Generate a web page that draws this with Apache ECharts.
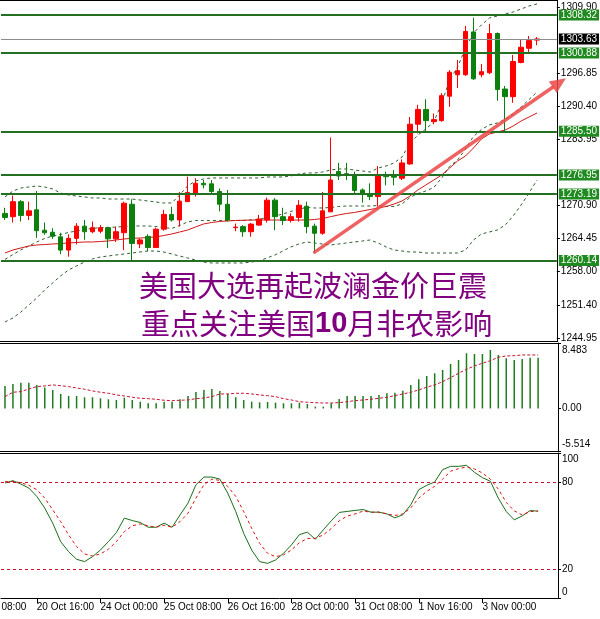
<!DOCTYPE html>
<html><head><meta charset="utf-8">
<script src="https://cdn.jsdelivr.net/npm/echarts@6/dist/echarts.min.js"></script>
<style>html,body{margin:0;padding:0;background:#fff}#c{width:600px;height:619px}</style>
</head><body><div id="c"></div>
<script>
const categories = ['20 Oct 00:00','20 Oct 04:00','20 Oct 08:00','20 Oct 12:00','20 Oct 16:00','20 Oct 20:00',
'21 Oct 00:00','21 Oct 04:00','21 Oct 08:00','21 Oct 12:00','21 Oct 16:00','21 Oct 20:00',
'24 Oct 00:00','24 Oct 04:00','24 Oct 08:00','24 Oct 12:00','24 Oct 16:00','24 Oct 20:00',
'25 Oct 00:00','25 Oct 04:00','25 Oct 08:00','25 Oct 12:00','25 Oct 16:00','25 Oct 20:00',
'26 Oct 00:00','26 Oct 04:00','26 Oct 08:00','26 Oct 12:00','26 Oct 16:00','26 Oct 20:00',
'27 Oct 00:00','27 Oct 04:00','27 Oct 08:00','27 Oct 12:00','27 Oct 16:00','27 Oct 20:00',
'28 Oct 00:00','28 Oct 04:00','28 Oct 08:00','28 Oct 12:00','28 Oct 16:00','28 Oct 20:00',
'31 Oct 00:00','31 Oct 04:00','31 Oct 08:00','31 Oct 12:00','31 Oct 16:00','31 Oct 20:00',
'1 Nov 00:00','1 Nov 04:00','1 Nov 08:00','1 Nov 12:00','1 Nov 16:00','1 Nov 20:00',
'2 Nov 00:00','2 Nov 04:00','2 Nov 08:00','2 Nov 12:00','2 Nov 16:00','2 Nov 20:00',
'3 Nov 00:00','3 Nov 04:00','3 Nov 08:00','3 Nov 12:00','3 Nov 16:00','3 Nov 20:00',
'4 Nov 00:00','4 Nov 04:00'];
const tickLabels = ['20 Oct 16:00','24 Oct 00:00','25 Oct 08:00','26 Oct 16:00','28 Oct 00:00','31 Oct 08:00','1 Nov 16:00','3 Nov 00:00'];
const leadingLabel = '19 Oct 08:00';

const openP = [1269.4,1268.75,1271.7,1269.0,1270.1,1266.1,1265.7,1264.8,1262.2,1264.5,1266.9,1265.8,1265.9,1266.6,1264.4,1265.6,1271.2,1263.4,1264.9,1262.7,1266.3,1269.2,1268.1,1271.7,1273.2,1275.3,1275.2,1273.7,1271.2,1266.6,1266.8,1265.8,1267.1,1268.1,1272.0,1268.75,1268.0,1268.6,1270.8,1266.9,1265.5,1269.7,1277.6,1277.2,1276.75,1274.0,1273.2,1272.7,1276.9,1276.9,1276.3,1279.1,1286.9,1289.8,1287.4,1287.6,1292.4,1296.6,1296.6,1305.0,1296.6,1297.0,1304.7,1293.8,1292.3,1299.0,1301.8,1303.4];
const closeP = [1268.6,1271.7,1269.0,1269.9,1266.0,1265.6,1264.9,1262.2,1264.5,1266.9,1265.8,1266.6,1266.6,1264.4,1265.8,1271.4,1263.5,1264.2,1262.7,1266.3,1269.2,1268.1,1271.8,1273.5,1275.3,1275.0,1273.7,1271.2,1268.1,1266.7,1265.8,1267.3,1268.3,1272.0,1268.75,1268.0,1268.75,1271.0,1266.8,1265.5,1269.9,1275.95,1276.75,1276.9,1273.9,1273.2,1272.7,1276.75,1276.6,1276.5,1279.3,1286.9,1289.8,1287.6,1287.8,1292.5,1297.1,1297.4,1305.1,1295.8,1297.2,1304.7,1293.7,1292.3,1299.2,1302.0,1303.3,1303.63];
const lowP = [1268.1,1267.6,1267.8,1268.1,1264.6,1265.2,1264.4,1261.4,1260.9,1263.3,1264.2,1265.5,1265.5,1262.6,1263.8,1262.2,1260.2,1262.6,1262.0,1262.6,1266.0,1267.8,1266.8,1271.7,1272.7,1274.3,1273.4,1269.8,1267.8,1265.9,1264.8,1264.8,1267.0,1267.6,1266.1,1267.1,1267.6,1267.8,1265.5,1261.7,1265.2,1269.7,1275.95,1275.95,1273.4,1271.5,1272.0,1270.7,1274.9,1274.9,1275.95,1278.9,1285.1,1285.4,1286.9,1287.4,1290.3,1294.0,1296.4,1295.6,1296.1,1296.7,1291.5,1285.4,1291.1,1298.85,1300.8,1302.4];
const highP = [1270.5,1272.9,1272.0,1271.7,1273.8,1267.6,1266.5,1265.6,1265.3,1267.5,1268.1,1267.8,1267.1,1266.8,1266.8,1271.7,1272.2,1264.5,1265.3,1266.6,1270.1,1270.7,1273.6,1276.6,1276.3,1275.95,1275.95,1274.3,1274.0,1267.4,1267.1,1267.5,1269.1,1272.5,1272.4,1270.5,1269.4,1272.0,1271.7,1267.4,1273.6,1284.3,1279.3,1279.3,1277.6,1274.3,1275.3,1278.7,1277.6,1277.9,1280.0,1288.3,1290.7,1291.8,1289.0,1293.0,1297.5,1299.5,1306.2,1307.8,1298.7,1306.6,1304.9,1294.4,1300.5,1303.4,1304.2,1304.0];

const bbUpper = [1272.62,1273.79,1274.38,1274.58,1274.78,1274.58,1274.19,1273.40,1273.01,1272.81,1272.62,1272.42,1272.42,1272.22,1272.22,1272.22,1272.22,1272.03,1271.83,1271.64,1271.44,1271.44,1273.01,1274.78,1275.76,1276.15,1276.35,1276.35,1276.35,1276.35,1276.35,1276.35,1276.35,1276.54,1276.54,1276.54,1276.74,1277.13,1277.33,1277.33,1277.52,1277.91,1278.11,1278.11,1277.91,1277.72,1277.52,1278.31,1278.70,1279.29,1280.47,1283.21,1284.78,1285.96,1287.33,1291.06,1295.58,1298.13,1301.85,1304.80,1306.37,1307.74,1308.13,1308.53,1308.92,1309.51,1310.10,1310.49];
const bbMiddle = [1260.36,1261.33,1262.22,1263.00,1263.79,1264.48,1264.97,1265.26,1265.65,1265.95,1266.24,1266.44,1266.63,1266.63,1266.73,1266.83,1266.93,1266.93,1266.93,1266.83,1266.63,1266.44,1267.03,1267.72,1268.01,1268.01,1268.01,1268.01,1268.01,1268.01,1268.01,1268.11,1268.21,1268.60,1268.89,1269.28,1269.78,1270.26,1270.56,1270.46,1270.46,1270.56,1270.75,1270.85,1270.85,1270.85,1270.85,1270.95,1270.76,1270.76,1271.25,1272.52,1273.30,1273.80,1274.48,1276.35,1278.61,1279.88,1282.04,1284.49,1285.87,1286.75,1287.14,1287.83,1288.91,1290.28,1291.75,1293.22];
const bbLower = [1248.09,1248.87,1250.05,1251.42,1252.80,1254.37,1255.74,1257.12,1258.29,1259.08,1259.86,1260.45,1260.84,1261.04,1261.24,1261.43,1261.63,1261.82,1262.02,1262.02,1261.82,1261.43,1261.04,1260.65,1260.25,1259.86,1259.67,1259.67,1259.67,1259.67,1259.67,1259.86,1260.06,1260.65,1261.24,1262.02,1262.81,1263.39,1263.79,1263.59,1263.39,1263.20,1263.39,1263.59,1263.79,1263.98,1264.18,1263.59,1262.81,1262.22,1262.02,1261.82,1261.82,1261.63,1261.63,1261.63,1261.63,1261.63,1262.22,1264.18,1265.36,1265.75,1266.14,1267.12,1268.89,1271.05,1273.40,1275.95];
const maRed = [1261.63,1262.22,1262.61,1263.00,1263.20,1263.29,1263.39,1263.49,1263.59,1263.69,1263.79,1263.79,1263.88,1263.98,1264.18,1264.38,1264.51,1264.57,1264.67,1264.77,1265.06,1265.36,1265.75,1266.14,1266.73,1267.32,1267.61,1267.81,1267.91,1268.01,1268.05,1268.10,1268.10,1268.10,1268.10,1268.10,1268.10,1268.10,1268.10,1268.20,1268.40,1268.75,1269.09,1269.38,1269.58,1269.87,1270.16,1270.46,1270.75,1271.24,1271.83,1272.81,1273.99,1274.97,1275.95,1276.93,1278.31,1279.68,1280.66,1282.23,1284.00,1284.98,1285.37,1285.76,1286.55,1287.53,1288.31,1289.10];

const macdHist = [2.92,3.18,3.34,3.34,3.05,2.70,2.40,1.88,1.62,1.62,1.45,1.45,1.32,1.19,1.10,1.40,1.10,0.88,0.67,0.67,0.88,0.88,1.19,1.62,2.14,2.40,2.53,2.27,1.88,1.45,1.10,0.88,0.80,0.84,0.75,0.67,0.67,0.75,0.58,0.23,0.23,0.67,1.23,1.62,1.62,1.62,1.62,1.75,1.97,2.05,2.31,3.05,3.78,4.21,4.56,4.99,5.77,6.29,7.15,7.06,7.06,7.58,6.93,6.51,6.29,6.42,6.58,6.58];
const macdSignal = [1.53,2.10,2.18,2.53,2.83,2.92,3.05,2.95,2.83,2.66,2.49,2.27,2.10,1.97,1.75,1.62,1.45,1.32,1.27,1.19,1.06,1.01,1.06,1.10,1.27,1.36,1.53,1.88,1.88,1.97,1.97,1.88,1.75,1.66,1.53,1.27,1.10,0.88,0.80,0.75,0.71,0.71,0.75,0.88,1.01,1.10,1.19,1.32,1.45,1.66,1.88,2.10,2.40,2.75,3.05,3.47,3.99,4.56,5.08,5.51,5.86,6.19,6.64,6.80,6.84,6.93,6.93,6.93];

const stochK = [79.3,80.9,78.6,75.8,70.1,62,51.6,38.9,31.9,26.7,25.1,28.5,33.1,38.9,45.1,55.1,53.4,52.1,48.8,48.8,51.6,48.8,57.3,65.4,78.1,83.4,83.4,82,72.3,59.6,44.6,33.1,25.1,23.9,26.2,30.8,36.6,43.7,45.4,40.5,47,53.2,59,59.7,60.4,61,59.2,59.2,58,55.3,57.4,64.3,74.7,77.7,80,88.5,90.8,90.8,91.5,86.7,83,80.5,68.9,59.6,53.9,56.6,60.3,59.9];
const stochD = [80.2,80.4,79.5,77.7,74.7,68.9,60.8,52.7,43.5,35.5,30.4,29,30.4,33.6,38.9,45.8,49.8,51.1,49.8,48.8,50.2,48.8,52.7,58.5,68.9,78.1,82,81.1,76.9,70.1,59.6,48.1,37.7,30.8,28.5,29.7,33.1,38.2,41,41.2,43.5,47.9,53.2,56.5,58,59.9,59.2,59.2,58,56.9,58,62.2,68.9,73.5,77,82,87.4,89.2,90.4,89,86.2,82,75.1,65.9,60.1,57.3,59.6,59.9];

const levels = [1308.32, 1300.88, 1285.50, 1276.95, 1273.19, 1260.14];
const lastPrice = 1303.63;
const priceTicks = [1309.90, 1296.85, 1290.40, 1283.95, 1270.90, 1264.45, 1258.00, 1251.40, 1244.95];
const macdTicks = [-5.514, 0, 8.483];
const stochTicks = [0, 20, 80, 100];
const stochLevels = [20, 80];
const trendArrow = { from: [39, 1261.8], through: [67, 1292.0], extend: 1.13 };
const headline1 = '美国大选再起波澜金价巨震';
const headline2 = ['重点关注美国', '10', '月非农影响'];

const chart = echarts.init(document.getElementById('c'), null, {renderer: 'canvas', width: 600, height: 619});
const axisCats = categories.concat([' ', '  ']);
const candleData = openP.map((o, i) => [o, closeP[i], lowP[i], highP[i]]);
const FONT = 'Liberation Sans';
const lab = {fontFamily: FONT, fontSize: 10, color: '#000'};
const isTick = (idx, val) => tickLabels.indexOf(val) >= 0;
const GL = 1, GW = 557;
const LINE_GREEN = '#237023';
const BOX_GREEN = '#1f8a1f';
const DASH_GREEN = '#2f5f2f';

function xAx(g) {
  return {
    type: 'category', gridIndex: g, data: axisCats, boundaryGap: true,
    axisLine: {show: g === 2, lineStyle: {color: '#000', width: 1}},
    axisTick: {show: g === 2, alignWithLabel: true, interval: isTick, length: 5, lineStyle: {color: '#000'}},
    axisLabel: {show: g === 2, interval: isTick, align: 'left', margin: 4, ...lab},
    splitLine: {show: false}
  };
}

const levelLines = levels.map(v => ({
  yAxis: v,
  lineStyle: {color: LINE_GREEN, width: 2, type: 'solid'},
  label: {show: true, position: 'end', distance: 2, formatter: p => p.value.toFixed(2),
    backgroundColor: BOX_GREEN, color: '#fff', padding: [1, 2, 0, 2], fontFamily: FONT, fontSize: 10}
}));
levelLines.push({
  yAxis: lastPrice,
  lineStyle: {color: '#8c8c8c', width: 1, type: 'solid'},
  label: {show: true, position: 'end', distance: 2, formatter: p => p.value.toFixed(2),
    backgroundColor: '#000', color: '#fff', padding: [1, 2, 0, 2], fontFamily: FONT, fontSize: 10}
});

const option = {
  animation: false,
  backgroundColor: '#fff',
  grid: [
    {left: GL, width: GW, top: 0, height: 341},
    {left: GL, width: GW, top: 343, height: 108},
    {left: GL, width: GW, top: 453, height: 145}
  ],
  xAxis: [xAx(0), xAx(1), xAx(2)],
  yAxis: [
    {gridIndex: 0, type: 'value', position: 'right', min: 1244.36, max: 1311.27,
     axisLine: {show: true, lineStyle: {color: '#000'}},
     axisTick: {show: true, length: 3, customValues: priceTicks, lineStyle: {color: '#000'}},
     axisLabel: {customValues: priceTicks, formatter: v => v.toFixed(2), margin: 4, ...lab},
     splitLine: {show: false}},
    {gridIndex: 1, type: 'value', position: 'right', min: -5.514, max: 8.483,
     axisLine: {show: true, lineStyle: {color: '#000'}},
     axisTick: {show: true, length: 3, customValues: macdTicks, lineStyle: {color: '#000'}},
     axisLabel: {customValues: macdTicks, margin: 4, ...lab,
       formatter: v => v === 8.483 ? '{t|8.483}' : (v === -5.514 ? '{b|-5.514}' : '0.00'),
       rich: {t: {padding: [14, 0, 0, 0], fontFamily: FONT, fontSize: 10}, b: {padding: [0, 0, 14, 0], fontFamily: FONT, fontSize: 10}}},
     splitLine: {show: false}},
    {gridIndex: 2, type: 'value', position: 'right', min: 0, max: 100,
     axisLine: {show: true, lineStyle: {color: '#000'}},
     axisTick: {show: true, length: 3, customValues: stochTicks, lineStyle: {color: '#000'}},
     axisLabel: {customValues: stochTicks, margin: 4, ...lab,
       formatter: v => v === 100 ? '{t|100}' : (v === 0 ? '{b|0}' : String(v)),
       rich: {t: {padding: [12, 0, 0, 0], fontFamily: FONT, fontSize: 10}, b: {padding: [0, 0, 12, 0], fontFamily: FONT, fontSize: 10}}},
     splitLine: {show: false}}
  ],
  series: [
    {type: 'line', name: 'bbUpper', xAxisIndex: 0, yAxisIndex: 0, data: bbUpper, symbol: 'none',
     lineStyle: {color: DASH_GREEN, width: 1, type: [3, 3]}, z: 2},
    {type: 'line', name: 'bbMiddle', xAxisIndex: 0, yAxisIndex: 0, data: bbMiddle, symbol: 'none',
     lineStyle: {color: DASH_GREEN, width: 1, type: [3, 3]}, z: 2},
    {type: 'line', name: 'bbLower', xAxisIndex: 0, yAxisIndex: 0, data: bbLower, symbol: 'none',
     lineStyle: {color: DASH_GREEN, width: 1, type: [3, 3]}, z: 2},
    {type: 'line', name: 'ma', xAxisIndex: 0, yAxisIndex: 0, data: maRed, symbol: 'none',
     lineStyle: {color: '#d01818', width: 1}, z: 2},
    {type: 'candlestick', name: 'XAUUSD', xAxisIndex: 0, yAxisIndex: 0, data: candleData, barWidth: 5,
     clip: false,
     itemStyle: {color: '#ff0000', color0: '#0c800c', borderColor: '#ff0000', borderColor0: '#0c800c', borderWidth: 1},
     markLine: {silent: true, symbol: ['none', 'none'], symbolSize: 0, data: levelLines, animation: false}, z: 3},
    {type: 'bar', name: 'macd', xAxisIndex: 1, yAxisIndex: 1, data: macdHist, barWidth: 1.5,
     itemStyle: {color: '#1e7b1e'}},
    {type: 'line', name: 'signal', xAxisIndex: 1, yAxisIndex: 1, data: macdSignal, symbol: 'none',
     lineStyle: {color: '#c81230', width: 1, type: [3, 2]}},
    {type: 'line', name: 'K', xAxisIndex: 2, yAxisIndex: 2, data: stochK, symbol: 'none',
     lineStyle: {color: '#1a6e1a', width: 1}},
    {type: 'line', name: 'D', xAxisIndex: 2, yAxisIndex: 2, data: stochD, symbol: 'none',
     lineStyle: {color: '#e01010', width: 1, type: [3, 3]},
     markLine: {silent: true, symbol: ['none', 'none'], label: {show: false},
       lineStyle: {color: '#c81230', width: 1, type: [3, 3]},
       data: stochLevels.map(v => ({yAxis: v}))}}
  ]
};
chart.setOption(option);

// annotations
const p0 = chart.convertToPixel({xAxisIndex: 0, yAxisIndex: 0}, trendArrow.from);
const p1 = chart.convertToPixel({xAxisIndex: 0, yAxisIndex: 0}, trendArrow.through);
const tip = [p0[0] + (p1[0] - p0[0]) * trendArrow.extend, p0[1] + (p1[1] - p0[1]) * trendArrow.extend];
const dx = tip[0] - p0[0], dy = tip[1] - p0[1], dl = Math.hypot(dx, dy);
const ux = dx / dl, uy = dy / dl, nx = -uy, ny = ux;
const HL = 16, HW = 7;
const base = [tip[0] - ux * HL, tip[1] - uy * HL];
const t4 = chart.convertToPixel({xAxisIndex: 2}, tickLabels[0]);
const t12 = chart.convertToPixel({xAxisIndex: 2}, tickLabels[1]);
const arrowColor = 'rgba(236,70,70,0.85)';
const sep = y => ({type: 'line', shape: {x1: 0, y1: y, x2: 558, y2: y}, style: {stroke: '#000', lineWidth: 1}, silent: true, z: 50});

chart.setOption({
  graphic: [
    sep(0.5), sep(341.5), sep(343.5), sep(451.5), sep(453.5),
    {type: 'line', shape: {x1: p0[0], y1: p0[1], x2: base[0], y2: base[1]},
     style: {stroke: arrowColor, lineWidth: 3.5, lineCap: 'round'}, z: 40, silent: true},
    {type: 'polygon', shape: {points: [tip, [base[0] + nx * HW, base[1] + ny * HW], [base[0] - nx * HW, base[1] - ny * HW]]},
     style: {fill: arrowColor}, z: 40, silent: true},
    {type: 'text', x: 139, y: 286, z: 45, silent: true,
     style: {text: headline1, fill: '#800080', fontFamily: 'Noto Sans CJK SC', fontSize: 29, verticalAlign: 'middle', align: 'left'}},
    {type: 'text', x: 141, y: 324, z: 45, silent: true,
     style: {text: '{a|' + headline2[0] + '}{b|' + headline2[1] + '}{a|' + headline2[2] + '}',
       verticalAlign: 'middle', align: 'left',
       rich: {a: {fill: '#800080', fontFamily: 'Noto Sans CJK SC', fontSize: 29},
              b: {fill: '#800080', fontFamily: 'Liberation Sans', fontWeight: 'bold', fontSize: 29}}}},
    {type: 'text', x: t4 - (t12 - t4) - 4, y: 602, z: 45, silent: true,
     style: {text: leadingLabel, fill: '#000', fontFamily: FONT, fontSize: 10, align: 'left', verticalAlign: 'top'}}
  ]
});
</script>
</body></html>
